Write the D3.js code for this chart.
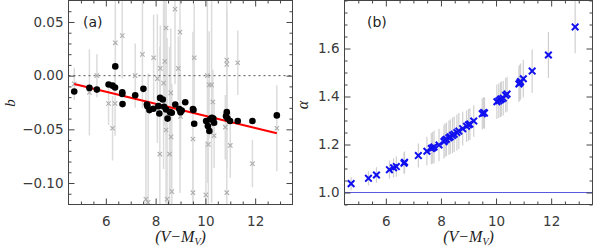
<!DOCTYPE html>
<html>
<head>
<meta charset="utf-8">
<script src="https://cdn.jsdelivr.net/npm/d3@7"></script>
<style>
body { margin: 0; background: #fff; }
text { font-family: "DejaVu Sans", sans-serif; }
</style>
</head>
<body>
<script>
// black dots, panel (a)
var dotX = [4.73, 5.34, 5.64, 6.11, 6.27, 6.37, 6.38, 6.66, 6.66, 6.67, 7.18, 7.51, 7.65, 7.67, 7.75, 7.91,
  8.11, 8.15, 8.18, 8.29, 8.34, 8.42, 8.48, 8.58, 8.65, 8.79, 8.95, 9.0, 9.05, 9.19, 9.5, 9.52, 9.55,
  10.03, 10.1, 10.16, 10.19, 10.26, 10.32, 10.35, 10.83, 10.86, 10.89, 10.99, 11.3, 11.89, 12.87]
var dotB = [-0.0148, -0.0114, -0.013, -0.0083, -0.0093, -0.011, 0.0086, -0.0154, -0.017, -0.0265, -0.0182, -0.0123, -0.0269, -0.0284, -0.0321, -0.0308,
  -0.0284, -0.0352, -0.0207, -0.0222, -0.029, -0.0315, -0.040, -0.034, -0.0346, -0.0269, -0.031, -0.034, -0.0325, -0.0247, -0.031, -0.032, -0.0448,
  -0.0423, -0.047, -0.0515, -0.0407, -0.0392, -0.040, -0.0438, -0.0377, -0.034, -0.040, -0.0423, -0.0423, -0.0423, -0.037]

// gray crosses with error bars, panel (a)
var crossX = [4.73, 5.34, 5.64, 6.11, 6.27, 6.38, 6.37, 6.66, 7.18, 7.47, 7.61, 7.70, 7.92, 8.07, 8.17, 8.19, 8.32, 8.37,
  8.42, 8.42, 8.46, 8.56, 8.61, 8.62, 8.65, 8.78, 8.91, 8.98, 9.0, 9.5, 9.5, 9.55, 10.02, 10.08, 10.12, 10.15, 10.25,
  10.3, 10.35, 10.8, 10.86, 10.86, 10.86, 11.0, 11.3, 11.89, 12.87]
var crossB = [-0.0077, -0.0157, 0.0, -0.0259, -0.049, 0.0306, -0.0259, 0.0373, 0.0, 0.0198, -0.115, -0.118, 0.0167, -0.0028, -0.073, 0.0068, -0.007, 0.0133,
  0.0444, -0.0506, -0.115, -0.073, -0.016, -0.057, -0.108, 0.062, 0.0068, 0.0406, -0.038, -0.059, -0.109, 0.0167, -0.111, 0.0, -0.064, -0.0086, -0.0086,
  -0.0245, -0.056, -0.048, 0.0145, 0.0105, -0.109, -0.065, 0.012, -0.082, -0.049]
var crossErr = [0.015, 0.04, 0.02, 0.02, 0.03, 0.045, 0.03, 0.04, 0.03, 0.05, 0.10, 0.12, 0.04, 0.06, 0.1, 0.04, 0.08, 0.06,
  0.1, 0.08, 0.15, 0.1, 0.06, 0.05, 0.1, 0.07, 0.03, 0.15, 0.04, 0.1, 0.04, 0.05, 0.05, 0.1, 0.06, 0.05, 0.11,
  0.03, 0.03, 0.03, 0.1, 0.05, 0.1, 0.03, 0.03, 0.022, 0.04]

// fit line for panel (a)
var fitX = [4.73, 12.87]
var fitB = [-0.0077, -0.0537]

// panel (b)
var alphaX = [4.74, 5.37, 5.66, 6.13, 6.28, 6.38, 6.66, 6.68, 7.18, 7.49, 7.65, 7.7, 7.75, 7.93, 8.11, 8.15, 8.2, 8.29,
  8.34, 8.42, 8.48, 8.58, 8.65, 8.79, 8.93, 9.0, 9.05, 9.19, 9.5, 9.55, 9.58, 10.03, 10.1, 10.16, 10.19, 10.26, 10.35,
  10.4, 10.83, 10.86, 10.89, 10.99, 11.31, 11.9, 12.87]
var alphaV = [1.037, 1.059, 1.073, 1.095, 1.103, 1.108, 1.122, 1.126, 1.154, 1.172, 1.183, 1.186, 1.19, 1.198, 1.212, 1.218, 1.222, 1.228,
  1.232, 1.238, 1.243, 1.25, 1.256, 1.266, 1.276, 1.282, 1.285, 1.298, 1.328, 1.333, 1.331, 1.378, 1.382, 1.387, 1.39, 1.393, 1.405,
  1.41, 1.452, 1.457, 1.462, 1.474, 1.506, 1.573, 1.69]
var alphaErr = [0.028, 0.03, 0.032, 0.038, 0.04, 0.042, 0.045, 0.045, 0.05, 0.06, 0.065, 0.066, 0.068, 0.068, 0.07, 0.07, 0.07, 0.072,
  0.072, 0.074, 0.074, 0.075, 0.075, 0.07, 0.066, 0.066, 0.066, 0.066, 0.065, 0.065, 0.065, 0.072, 0.072, 0.072, 0.072, 0.072, 0.072,
  0.072, 0.075, 0.075, 0.075, 0.078, 0.09, 0.096, 0.11]

var xMajor = [6, 8, 10, 12]
var bMajor = [0.05, 0.0, -0.05, -0.10]
var aMajor = [1.0, 1.2, 1.4, 1.6]

var svg = d3.select("body").append("svg")
  .attr("width", 594)
  .attr("height", 247)

var axisColor = "#444"

function drawFrame(g, x, y, majorY, minorY, fmtY) {
  var w = x.range()[1] - x.range()[0]
  var h = y.range()[0] - y.range()[1]
  var minorX = d3.range(5, 13.5, 0.5).filter(function(v) { return xMajor.indexOf(v) < 0 })

  g.append("g").attr("transform", "translate(0," + y.range()[0] + ")")
    .call(d3.axisBottom(x).tickValues(xMajor).tickSizeInner(-6).tickSizeOuter(0).tickPadding(12).tickFormat(d3.format("d")))
  g.append("g").attr("transform", "translate(0," + y.range()[0] + ")")
    .call(d3.axisBottom(x).tickValues(minorX).tickSizeInner(-3).tickSizeOuter(0).tickFormat(""))
  g.append("g").attr("transform", "translate(0," + y.range()[1] + ")")
    .call(d3.axisTop(x).tickValues(xMajor).tickSizeInner(-6).tickSizeOuter(0).tickFormat(""))
  g.append("g").attr("transform", "translate(0," + y.range()[1] + ")")
    .call(d3.axisTop(x).tickValues(minorX).tickSizeInner(-3).tickSizeOuter(0).tickFormat(""))

  g.append("g").attr("transform", "translate(" + x.range()[0] + ",0)")
    .call(d3.axisLeft(y).tickValues(majorY).tickSizeInner(-6).tickSizeOuter(0).tickPadding(5).tickFormat(fmtY))
  g.append("g").attr("transform", "translate(" + x.range()[0] + ",0)")
    .call(d3.axisLeft(y).tickValues(minorY).tickSizeInner(-3).tickSizeOuter(0).tickFormat(""))
  g.append("g").attr("transform", "translate(" + x.range()[1] + ",0)")
    .call(d3.axisRight(y).tickValues(majorY).tickSizeInner(-6).tickSizeOuter(0).tickFormat(""))
  g.append("g").attr("transform", "translate(" + x.range()[1] + ",0)")
    .call(d3.axisRight(y).tickValues(minorY).tickSizeInner(-3).tickSizeOuter(0).tickFormat(""))

  g.append("rect")
    .attr("x", x.range()[0]).attr("y", y.range()[1])
    .attr("width", w).attr("height", h)
    .attr("fill", "none").attr("stroke", axisColor).attr("stroke-width", 1)

  g.selectAll(".domain").remove()
  g.selectAll(".tick line").attr("stroke", axisColor)
  g.selectAll(".tick text").attr("fill", "#3a3a3a").style("font-size", "13.5px").style("font-family", "DejaVu Sans, sans-serif")
}

function xTitle(g, cx) {
  var t = g.append("text")
    .attr("x", cx).attr("y", 242)
    .attr("text-anchor", "middle")
    .style("font-family", "Liberation Serif, serif")
    .style("font-style", "italic")
    .style("font-size", "16px")
    .attr("fill", "#222")
  t.append("tspan").text("(V\u2212M")
  t.append("tspan").attr("dy", 3).style("font-size", "10px").text("V")
  t.append("tspan").attr("dy", -3).text(")")
}

// ---------- panel (a)
var xa = d3.scaleLinear().domain([4.5, 13.5]).range([68.5, 292.5])
var ya = d3.scaleLinear().domain([-0.12, 0.07]).range([204.5, 0.5])

var ga = svg.append("g")
var clipA = svg.append("clipPath").attr("id", "clipA")
clipA.append("rect").attr("x", 68.5).attr("y", 0.5).attr("width", 224).attr("height", 204)

var plotA = ga.append("g").attr("clip-path", "url(#clipA)")

plotA.selectAll(".err").data(crossX).enter().append("line")
  .attr("x1", function(d) { return xa(d) }).attr("x2", function(d) { return xa(d) })
  .attr("y1", function(d, i) { return ya(crossB[i] + crossErr[i]) })
  .attr("y2", function(d, i) { return ya(crossB[i] - crossErr[i]) })
  .attr("stroke", "#dcdcdc").attr("stroke-width", 1.5)

plotA.append("line")
  .attr("x1", xa(4.5)).attr("x2", xa(13.5))
  .attr("y1", ya(0)).attr("y2", ya(0))
  .attr("stroke", "#555").attr("stroke-width", 1).attr("stroke-dasharray", "2,3")

plotA.selectAll(".cross").data(crossX).enter().append("path")
  .attr("transform", function(d, i) { return "translate(" + xa(d) + "," + ya(crossB[i]) + ")" })
  .attr("d", "M-2.2,-2.2L2.2,2.2M-2.2,2.2L2.2,-2.2")
  .attr("stroke", "#adadad").attr("stroke-width", 1.1).attr("fill", "none")

plotA.append("line")
  .attr("x1", xa(fitX[0])).attr("x2", xa(fitX[1]))
  .attr("y1", ya(fitB[0])).attr("y2", ya(fitB[1]))
  .attr("stroke", "#ff0000").attr("stroke-width", 2)

plotA.selectAll(".dot").data(dotX).enter().append("circle")
  .attr("cx", function(d) { return xa(d) })
  .attr("cy", function(d, i) { return ya(dotB[i]) })
  .attr("r", 3.3)
  .attr("fill", "#000")

drawFrame(ga, xa, ya, bMajor, d3.range(-0.11, 0.07, 0.01).map(function(v) { return +v.toFixed(2) }).filter(function(v) { return bMajor.indexOf(v) < 0 && v !== 0 }),
  function(d) { return d3.format(".2f")(d).replace("-", "\u2212") })

ga.append("text").attr("x", 83).attr("y", 27).text("(a)")
  .style("font-size", "14px").attr("fill", "#222")

ga.append("text")
  .attr("transform", "translate(15,103) rotate(-90)")
  .attr("text-anchor", "middle")
  .style("font-family", "Liberation Serif, serif").style("font-style", "italic").style("font-size", "15px")
  .attr("fill", "#222")
  .text("b")

xTitle(ga, 180.5)

// ---------- panel (b)
var xb = d3.scaleLinear().domain([4.5, 13.5]).range([344.5, 592.5])
var yb = d3.scaleLinear().domain([0.95, 1.8]).range([204.5, 0.5])

var gb = svg.append("g")
var clipB = svg.append("clipPath").attr("id", "clipB")
clipB.append("rect").attr("x", 344.5).attr("y", 0.5).attr("width", 248).attr("height", 204)
var plotB = gb.append("g").attr("clip-path", "url(#clipB)")

plotB.selectAll(".err").data(alphaX).enter().append("line")
  .attr("x1", function(d) { return xb(d) }).attr("x2", function(d) { return xb(d) })
  .attr("y1", function(d, i) { return yb(alphaV[i] + alphaErr[i]) })
  .attr("y2", function(d, i) { return yb(alphaV[i] - alphaErr[i]) })
  .attr("stroke", "#cfcfcf").attr("stroke-width", 1.2)

plotB.append("line")
  .attr("x1", xb(4.5)).attr("x2", xb(13.5))
  .attr("y1", yb(1.0)).attr("y2", yb(1.0))
  .attr("stroke", "#5a5ae0").attr("stroke-width", 1)

plotB.selectAll(".bx").data(alphaX).enter().append("path")
  .attr("transform", function(d, i) { return "translate(" + xb(d) + "," + yb(alphaV[i]) + ")" })
  .attr("d", "M-3.3,-3.3L3.3,3.3M-3.3,3.3L3.3,-3.3")
  .attr("stroke", "#1010f0").attr("stroke-width", 2).attr("fill", "none")

drawFrame(gb, xb, yb, aMajor, d3.range(0.95, 1.81, 0.05).map(function(v) { return +v.toFixed(2) }).filter(function(v) { return aMajor.indexOf(v) < 0 }),
  d3.format(".1f"))

gb.append("text").attr("x", 367).attr("y", 27).text("(b)")
  .style("font-size", "14px").attr("fill", "#222")

gb.append("text")
  .attr("transform", "translate(308,105) rotate(-90)")
  .attr("text-anchor", "middle")
  .style("font-family", "Liberation Serif, serif").style("font-style", "italic").style("font-size", "16px")
  .attr("fill", "#222")
  .text("\u03b1")

xTitle(gb, 468.5)
</script>
</body>
</html>
